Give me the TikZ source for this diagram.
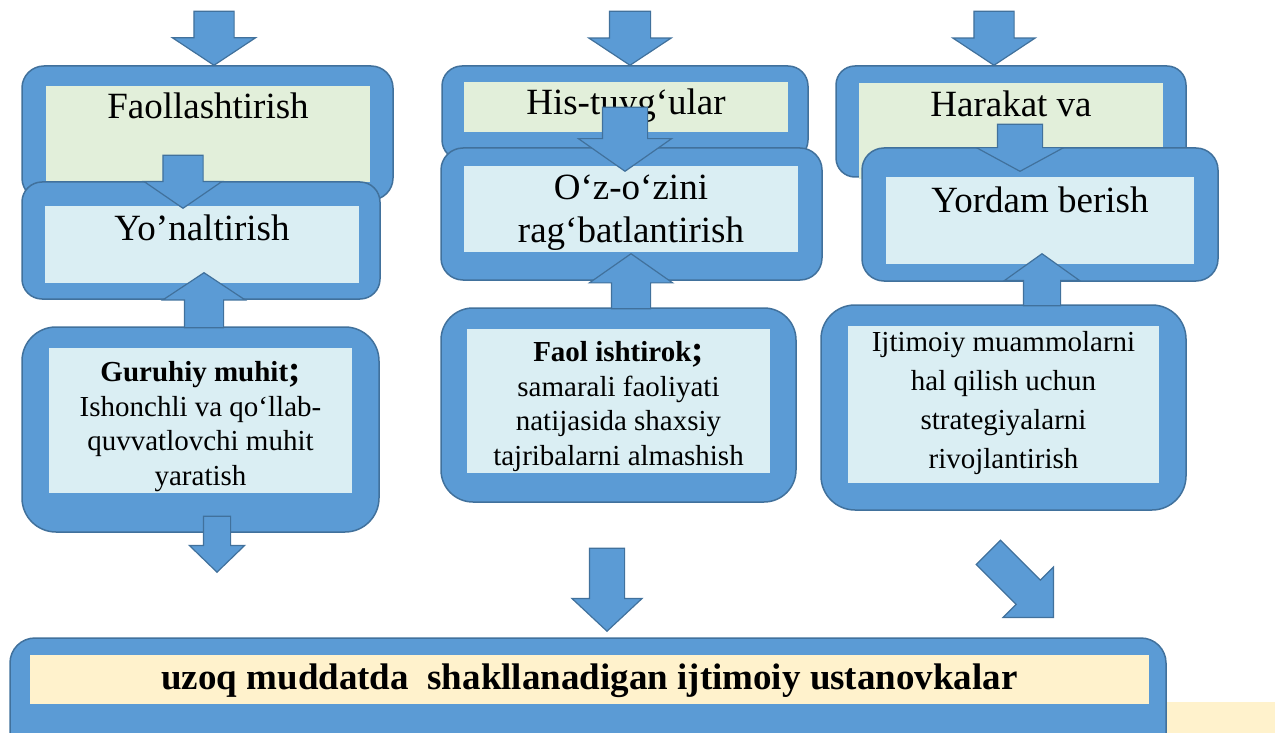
\documentclass[tikz,border=0pt]{standalone}
\usepackage{fontspec}
\setmainfont{Liberation Serif}
\usetikzlibrary{positioning,shapes.arrows}
\definecolor{boxblue}{HTML}{5B9BD5}
\definecolor{boxline}{HTML}{41719C}
\definecolor{palegreen}{HTML}{E2EFDA}
\definecolor{paleblue}{HTML}{DAEEF3}
\definecolor{palecream}{HTML}{FFF2CC}
\tikzset{
    outerbox/.style={draw=boxline, line width=1.5pt, fill=boxblue, rounded corners=#1},
    outerbox/.default=20pt,
    innerbox/.style={fill=#1, inner sep=0pt, align=center},
    title/.style={font=\fontsize{37}{42.5}\selectfont},
    body/.style={font=\fontsize{29}{34.5}\selectfont},
    blockarrow/.style n args={5}{single arrow, draw=boxline, line width=1.2pt, fill=boxblue,
        inner xsep=0pt, inner ysep=0.5*#3, rotate=#1, minimum height=#2,
        single arrow head extend=(#4-#3)/2, single arrow tip angle=#5, anchor=tip}
}
\begin{document}
\begin{tikzpicture}[x=1pt,y=-1pt]
    \useasboundingbox (0,0) rectangle (1275,733);
    \node[fill=palecream, inner sep=0pt, minimum width=115pt, minimum height=31pt] (C) at (1217.5,717.5) {};
    \node[outerbox=22pt, minimum width=371pt, minimum height=134pt] (B1) at (207.5,133) {};
    \node[innerbox=palegreen, minimum width=324pt, text height=33pt, text depth=63pt, title] (I1) at (208,134) {Faollashtirish};
    \node[outerbox=20pt, minimum width=366pt, minimum height=94pt] (B4) at (625,113) {};
    \node[innerbox=palegreen, minimum width=324pt, text height=33pt, text depth=17pt, title] (I4) at (626,107) {His-tuyg‘ular};
    \node[outerbox=19pt, minimum width=350pt, minimum height=111pt] (B7) at (1011,121.5) {};
    \node[innerbox=palegreen, minimum width=304pt, text height=34pt, text depth=62pt, title] (I7) at (1011,131) {Harakat va};
    \node[blockarrow={-90}{54pt}{39pt}{82pt}{113}] (A1) at (214,66) {};
    \node[blockarrow={-90}{54pt}{40pt}{81pt}{113}] (A5) at (630,66) {};
    \node[blockarrow={-90}{54pt}{39pt}{81pt}{113}] (A9) at (994,66) {};
    \node[outerbox=20pt, minimum width=358pt, minimum height=117pt] (B2) at (201,240.5) {};
    \node[innerbox=paleblue, minimum width=314pt, text height=34pt, text depth=43pt, title] (I2) at (202,244.5) {Yo’naltirish};
    \node[outerbox=22pt, minimum width=381pt, minimum height=132pt] (B5) at (631.5,214) {};
    \node[innerbox=paleblue, minimum width=334pt, text height=76pt, text depth=10pt, title] (I5) at (631,209) {O‘z-o‘zini\\rag‘batlantirish};
    \node[outerbox=22pt, minimum width=356pt, minimum height=133pt] (B8) at (1040,214.5) {};
    \node[innerbox=paleblue, minimum width=308pt, text height=35pt, text depth=52pt, title] (I8) at (1040,220.5) {Yordam berish};
    \node[blockarrow={-90}{53pt}{39pt}{77pt}{111}] (A2) at (183,209) {};
    \node[blockarrow={-90}{64pt}{44pt}{92pt}{110}] (A6) at (625,172) {};
    \node[blockarrow={-90}{47pt}{44pt}{86pt}{123}] (A10) at (1020,172) {};
    \node[outerbox=34pt, minimum width=357pt, minimum height=205pt] (B3) at (200.5,429.5) {};
    \node[innerbox=paleblue, minimum width=303pt, text height=137pt, text depth=8pt, body] (I3) at (200.5,420.5) {\textbf{Guruhiy muhit}{\bfseries\fontsize{37}{34.5}\selectfont;}\\Ishonchli va qo‘llab-\\quvvatlovchi muhit\\yaratish};
    \node[outerbox=32pt, minimum width=355pt, minimum height=194pt] (B6) at (618.5,405) {};
    \node[innerbox=paleblue, minimum width=303pt, text height=136pt, text depth=8pt, body] (I6) at (618.5,401) {\textbf{Faol ishtirok}{\bfseries\fontsize{37}{34.5}\selectfont;}\\samarali faoliyati\\natijasida shaxsiy\\tajribalarni almashish};
    \node[outerbox=34pt, minimum width=365pt, minimum height=205pt] (B9) at (1003.5,407.5) {};
    \node[innerbox=paleblue, minimum width=311pt, text height=142pt, text depth=15pt, font=\fontsize{29}{38.7}\selectfont] (I9) at (1003.5,404.5) {Ijtimoiy muammolarni\\hal qilish uchun\\strategiyalarni\\rivojlantirish};
    \node[blockarrow={90}{55pt}{38pt}{81pt}{113}] (A3) at (204,272) {};
    \node[blockarrow={90}{55pt}{38pt}{82pt}{110}] (A7) at (631,253) {};
    \node[blockarrow={90}{52pt}{36pt}{74pt}{109}] (A11) at (1042,253) {};
    \node[blockarrow={-90}{56pt}{26pt}{54pt}{92}] (A4) at (217,573) {};
    \node[blockarrow={-90}{83pt}{34pt}{69pt}{94}] (A8) at (607,632) {};
    \node[blockarrow={-45}{92pt}{33pt}{70pt}{90}] (A12) at (1054,618) {};
    \node[outerbox=25pt, minimum width=1156pt, minimum height=122pt] (B10) at (588,699) {};
    \node[innerbox=palecream, minimum width=1119pt, text height=34pt, text depth=15pt, font=\bfseries\fontsize{37}{40}\selectfont] (I10) at (589.5,679.5) {uzoq muddatda~ shakllanadigan ijtimoiy ustanovkalar};
\end{tikzpicture}
\end{document}
